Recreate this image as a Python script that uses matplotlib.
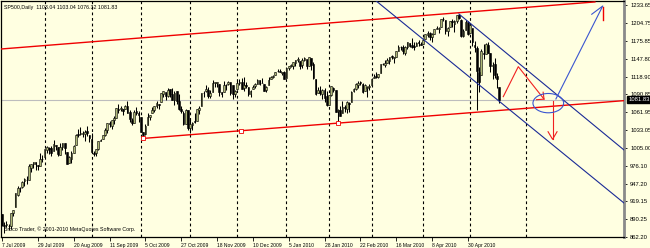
import matplotlib
matplotlib.use("Agg")
import matplotlib.pyplot as plt
from matplotlib.patches import Ellipse

plt.rcParams["font.family"] = ["Liberation Sans", "DejaVu Sans"]

# SP500 daily bars, 7 Jul 2009 .. 20 May 2010 (broker feed, incl. 7 Sep and 26 Nov bars)
opens = [
    898.6, 881.9, 881.3, 880.0, 879.6, 900.8, 910.2, 930.2, 940.6, 942.1, 952.0, 953.4, 954.1, 972.2, 978.6, 981.5, 977.7, 976.0, 986.8,
    990.2, 1001.4, 1005.4, 1004.1, 999.8, 1008.9, 1005.8, 994.0, 1005.9, 1012.2, 998.2, 980.6, 986.9, 996.4, 1009.1, 1026.6, 1026.6, 1027.4, 1027.8, 1031.6, 1025.2,
    1019.5, 996.1, 996.1, 1003.8, 1016.4, 1018.7, 1025.4, 1033.0, 1043.9, 1040.2, 1049.0, 1053.0, 1067.9, 1066.6, 1067.1, 1066.4, 1072.7, 1062.6, 1049.5, 1045.4, 1063.7, 1061.0,
    1054.9, 1029.7, 1026.9, 1042.0, 1053.7, 1060.0, 1065.3, 1071.6, 1075.0, 1078.7, 1090.4, 1094.7, 1088.2, 1098.6, 1090.4, 1081.0, 1095.6, 1080.4, 1067.5, 1061.5, 1043.7, 1065.4,
    1036.2, 1040.9, 1047.1, 1047.3, 1065.0, 1072.3, 1092.2, 1096.0, 1098.3, 1087.6, 1094.1, 1109.2, 1109.4, 1106.4, 1094.7, 1094.9, 1105.8, 1106.5, 1110.6, 1105.5, 1091.1,
    1098.9, 1109.0, 1110.6, 1100.4, 1105.5, 1103.0, 1091.1, 1098.7, 1104.0, 1107.8, 1114.1, 1108.6, 1106.4, 1097.9, 1105.3, 1114.5, 1118.8, 1121.1, 1127.5, 1128.6, 1125.5, 1126.6,
    1116.6, 1132.7, 1135.7, 1136.3, 1140.5, 1146.0, 1143.8, 1137.3, 1145.7, 1147.7, 1136.0, 1148.0, 1138.7, 1115.5, 1092.4, 1095.8, 1091.9, 1096.9, 1087.6,
    1073.9, 1090.1, 1100.7, 1097.3, 1064.1, 1065.5, 1060.1, 1069.7, 1067.1, 1076.0, 1079.1, 1096.1, 1099.0, 1105.5, 1110.0, 1107.5, 1095.9, 1101.2, 1103.1,
    1105.4, 1117.0, 1119.4, 1119.1, 1125.1, 1138.4, 1137.6, 1140.2, 1144.0, 1151.7, 1148.5, 1150.8, 1159.9, 1166.1, 1166.7, 1157.3, 1166.5, 1172.7, 1170.0, 1167.6, 1167.7, 1173.8, 1171.8,
    1171.2, 1178.7, 1186.0, 1188.2, 1181.8, 1187.5, 1194.9, 1195.9, 1198.7, 1210.8, 1210.2, 1192.1, 1199.0, 1207.2, 1202.5, 1207.9, 1217.1, 1209.9, 1184.6, 1193.3, 1206.8,
    1188.6, 1197.5, 1169.2, 1164.4, 1127.0, 1122.3, 1156.4, 1155.4, 1170.0, 1157.2, 1136.5, 1138.8, 1119.6, 1103.04,
]
highs = [
    898.6, 886.8, 887.9, 883.6, 901.1, 905.8, 933.0, 943.9, 941.9, 951.6, 956.5, 959.8, 979.4, 979.8, 982.5, 982.4, 977.8, 996.7, 993.2,
    1003.6, 1007.1, 1006.6, 1008.0, 1018.0, 1010.1, 1005.8, 1012.8, 1013.1, 1012.6, 998.2, 991.2, 999.6, 1008.9, 1027.6, 1035.8, 1037.8, 1032.5, 1033.3, 1039.5, 1025.2,
    1028.5, 1000.3, 1003.4, 1016.5, 1019.0, 1026.1, 1036.3, 1044.1, 1048.2, 1049.7, 1056.0, 1068.8, 1074.8, 1071.5, 1067.3, 1073.8, 1080.2, 1066.3, 1053.5, 1065.1, 1069.6, 1063.4,
    1054.9, 1030.6, 1042.6, 1060.6, 1058.0, 1070.7, 1071.5, 1079.5, 1075.3, 1093.2, 1096.6, 1094.7, 1100.2, 1098.6, 1101.4, 1095.2, 1095.8, 1091.8, 1072.5, 1063.3, 1066.8, 1065.4,
    1052.2, 1046.4, 1061.0, 1066.7, 1071.5, 1093.2, 1095.8, 1105.4, 1102.0, 1097.6, 1113.7, 1110.5, 1111.1, 1106.4, 1094.7, 1112.4, 1107.6, 1111.2, 1111.0, 1105.5, 1097.2,
    1112.3, 1115.6, 1117.3, 1119.1, 1110.7, 1103.0, 1097.0, 1106.3, 1108.5, 1114.8, 1114.1, 1116.2, 1106.4, 1103.7, 1117.7, 1120.3, 1121.6, 1126.5, 1130.4, 1130.4, 1126.4, 1127.6,
    1133.9, 1136.6, 1139.2, 1142.5, 1145.4, 1149.7, 1143.8, 1148.4, 1150.4, 1147.8, 1150.5, 1148.0, 1141.6, 1115.5, 1103.0, 1103.7, 1099.5, 1100.2, 1096.5,
    1089.4, 1104.7, 1102.7, 1097.3, 1067.1, 1071.2, 1080.0, 1073.7, 1080.0, 1077.8, 1095.7, 1101.0, 1108.2, 1112.4, 1112.3, 1108.6, 1106.4, 1103.5, 1107.2,
    1116.1, 1123.5, 1125.6, 1123.7, 1139.4, 1141.1, 1145.4, 1148.3, 1150.2, 1153.4, 1151.0, 1160.3, 1169.2, 1167.8, 1169.2, 1167.8, 1174.7, 1173.0, 1180.7, 1173.9, 1174.9, 1177.8, 1174.6,
    1181.4, 1187.7, 1191.8, 1189.6, 1188.6, 1194.7, 1199.2, 1199.0, 1210.7, 1213.9, 1210.2, 1197.9, 1208.6, 1211.0, 1210.3, 1217.3, 1219.8, 1211.4, 1195.0, 1209.4, 1208.0,
    1205.1, 1197.5, 1176.0, 1167.6, 1135.1, 1163.9, 1170.5, 1172.9, 1173.6, 1157.2, 1141.9, 1148.7, 1124.3, 1103.04,
]
lows = [
    879.9, 869.3, 878.5, 872.8, 875.3, 896.5, 910.2, 927.5, 934.4, 940.9, 943.2, 947.8, 953.3, 965.9, 972.3, 969.4, 968.7, 976.0, 982.8,
    990.2, 996.7, 994.3, 992.5, 999.8, 1001.0, 992.4, 993.4, 1000.8, 994.6, 978.5, 980.6, 980.6, 996.4, 1009.1, 1022.5, 1026.2, 1021.6, 1016.2, 1023.1, 1014.6,
    996.3, 992.0, 992.3, 1001.7, 1015.5, 1018.7, 1024.0, 1028.0, 1038.4, 1035.0, 1043.4, 1052.9, 1061.2, 1064.3, 1057.5, 1066.4, 1060.4, 1045.9, 1041.2, 1045.4, 1057.8, 1046.5,
    1029.5, 1020.0, 1025.9, 1042.0, 1050.1, 1060.0, 1063.0, 1068.3, 1066.7, 1078.7, 1086.4, 1081.5, 1086.5, 1086.2, 1080.8, 1074.3, 1075.5, 1065.2, 1060.6, 1042.2, 1043.7, 1033.4,
    1029.4, 1033.4, 1045.2, 1047.3, 1059.3, 1072.3, 1085.9, 1094.7, 1084.9, 1085.3, 1094.1, 1102.2, 1102.7, 1088.4, 1086.8, 1094.9, 1097.6, 1104.8, 1090.0, 1083.7, 1086.3,
    1098.9, 1105.3, 1098.7, 1096.5, 1100.8, 1088.6, 1085.9, 1098.7, 1101.3, 1107.8, 1105.4, 1108.0, 1095.9, 1093.9, 1105.3, 1114.5, 1116.0, 1121.1, 1126.1, 1126.2, 1121.9, 1114.8,
    1116.6, 1129.7, 1134.0, 1131.3, 1136.2, 1142.0, 1131.8, 1133.2, 1143.8, 1131.4, 1135.8, 1129.3, 1114.8, 1090.2, 1092.4, 1089.9, 1083.1, 1078.5, 1071.6,
    1073.9, 1088.0, 1094.0, 1062.8, 1044.5, 1056.5, 1060.1, 1062.4, 1060.1, 1063.0, 1079.1, 1094.7, 1097.7, 1100.8, 1105.4, 1092.2, 1095.5, 1086.0, 1097.6,
    1105.4, 1116.5, 1116.6, 1116.7, 1125.1, 1136.8, 1134.9, 1140.1, 1139.0, 1147.0, 1141.5, 1150.4, 1159.9, 1161.9, 1155.3, 1152.9, 1163.8, 1166.0, 1165.1, 1161.5, 1167.7, 1168.2, 1169.3,
    1170.7, 1178.7, 1182.8, 1177.3, 1175.1, 1187.2, 1194.7, 1188.8, 1198.7, 1208.5, 1186.8, 1183.7, 1199.0, 1198.9, 1190.2, 1205.1, 1211.1, 1181.6, 1181.8, 1193.3, 1186.3,
    1188.6, 1168.1, 1158.2, 1065.8, 1094.2, 1122.3, 1147.7, 1155.4, 1156.1, 1126.1, 1115.0, 1117.2, 1100.7, 1076.32,
]
closes = [
    881.0, 879.6, 882.7, 879.1, 901.1, 905.8, 932.7, 940.7, 940.4, 951.0, 954.6, 954.1, 976.3, 979.3, 982.2, 979.6, 975.2, 986.8, 987.5,
    1002.6, 1005.7, 1002.7, 997.1, 1010.5, 1007.1, 994.4, 1005.8, 1012.7, 1004.1, 979.7, 989.7, 996.5, 1007.4, 1026.1, 1025.6, 1028.0, 1028.1, 1031.0, 1028.9, 1020.6,
    998.0, 994.8, 1003.2, 1016.4, 1018.0, 1025.4, 1033.4, 1044.1, 1042.7, 1049.3, 1052.6, 1068.8, 1065.5, 1068.3, 1064.7, 1071.7, 1060.9, 1050.8, 1044.4, 1063.0, 1060.6, 1057.1,
    1029.9, 1025.2, 1040.5, 1054.7, 1057.6, 1065.5, 1071.5, 1076.2, 1073.2, 1092.0, 1096.6, 1087.7, 1097.9, 1091.1, 1081.4, 1092.9, 1079.6, 1067.0, 1063.4, 1042.6, 1066.1, 1036.2,
    1042.9, 1045.4, 1046.5, 1066.6, 1069.3, 1093.1, 1093.0, 1098.5, 1087.2, 1093.5, 1109.3, 1110.3, 1109.8, 1094.9, 1091.4, 1106.2, 1105.7, 1110.6, 1092.0, 1091.5, 1095.6,
    1108.9, 1109.2, 1099.9, 1106.0, 1103.3, 1091.9, 1095.9, 1102.4, 1106.4, 1114.1, 1107.9, 1109.2, 1096.1, 1102.5, 1114.0, 1118.0, 1120.6, 1126.5, 1127.8, 1126.2, 1126.4, 1115.1,
    1133.0, 1136.5, 1137.1, 1141.7, 1145.0, 1147.0, 1136.2, 1145.7, 1148.5, 1136.0, 1150.2, 1138.0, 1116.5, 1091.8, 1096.8, 1092.2, 1097.5, 1084.5, 1073.9,
    1089.2, 1103.3, 1097.3, 1063.1, 1066.2, 1056.7, 1070.5, 1068.1, 1078.5, 1075.5, 1094.9, 1099.5, 1106.8, 1109.2, 1108.0, 1094.6, 1105.2, 1102.9, 1104.5,
    1115.7, 1118.3, 1118.8, 1123.0, 1138.7, 1138.5, 1140.4, 1145.6, 1150.2, 1150.0, 1150.5, 1159.5, 1166.2, 1165.8, 1159.9, 1165.8, 1174.2, 1167.7, 1165.7, 1166.6, 1173.2, 1173.3, 1169.4,
    1178.1, 1187.4, 1189.4, 1182.5, 1186.4, 1194.4, 1196.5, 1197.3, 1210.7, 1211.7, 1192.1, 1197.5, 1207.2, 1205.9, 1208.7, 1217.3, 1212.1, 1183.7, 1191.4, 1206.8, 1186.7,
    1202.3, 1173.6, 1165.9, 1128.2, 1110.9, 1159.7, 1155.8, 1171.7, 1157.4, 1135.7, 1136.9, 1120.8, 1115.1, 1081.83,
]

# bottom labels: every 16th bar
date_labels = ["7 Jul 2009", "29 Jul 2009", "20 Aug 2009", "11 Sep 2009", "5 Oct 2009",
               "27 Oct 2009", "18 Nov 2009", "10 Dec 2009", "5 Jan 2010", "28 Jan 2010",
               "22 Feb 2010", "16 Mar 2010", "8 Apr 2010", "30 Apr 2010"]
date_bars = [0, 16, 32, 48, 64, 80, 96, 112, 128, 144, 160, 176, 192, 208]
# month separators (first bar of each month, last one is in the future area)
month_bars = [19, 40, 62, 84, 105, 127, 146, 165, 188, 209, 234]

price_levels = [1233.65, 1204.75, 1175.85, 1147.80, 1118.90, 1090.85, 1061.95,
                1033.05, 1005.00, 976.10, 947.20, 919.15, 890.25, 862.20]
last_price = 1081.83
title = "SP500,Daily  1103.04 1103.04 1076.32 1081.83"

# hand drawn objects, (bar, price)
red_upper = ([-1, 264.7], [1163.0, 1238.5])
red_lower = ([63, 277.7], [1020.0, 1080.5])
red_lower_pts = ([63, 106.5, 150], [1020.0, 1032.2, 1044.5])
blue_low = ([160, 277.7], [1260.7, 916.6])
blue_high = ([204, 277.7], [1219.2, 1001.5])
blue_arrow = ([247.3, 268.2, 263.3], [1083.2, 1232.0, 1218.8])
red_tick = ([268.2, 268.2], [1230.9, 1209.6])
red_zigzag = ([223.8, 230.5, 242.0], [1086.9, 1134.9, 1082.9])
red_zig_head = ([238.6, 242.0, 241.6], [1082.0, 1082.9, 1094.0])
red_down = ([245.8, 245.8], [1080.3, 1018.6])
red_down_head = ([243.8, 245.8, 247.8], [1030.7, 1018.6, 1030.7])

bg = "#FFFFE1"
fig = plt.figure(figsize=(6.5, 2.48), dpi=100, facecolor=bg)
ax = fig.add_axes([1 / 650, 11 / 248, 623 / 650, 236 / 248], facecolor=bg)

for b in month_bars:
    ax.axvline(b, color="black", lw=0.8, ls=(0, (2.5, 2.5)), zorder=1)

ax.axhline(last_price, color="#BDBDBD", lw=0.8, zorder=1)

x = list(range(len(closes)))
ax.vlines(x, lows, highs, color="black", lw=0.75, zorder=3)
up = [c >= o for o, c in zip(opens, closes)]
body_lo = [min(o, c) for o, c in zip(opens, closes)]
body_h = [max(abs(c - o), 0.6) for o, c in zip(opens, closes)]
ax.bar(x, body_h, bottom=body_lo, width=0.75,
       color=["#AEB877" if u else "black" for u in up],
       edgecolor="black", linewidth=0.4, zorder=4)

# channels and notes
ax.plot(*red_upper, color="#F00000", lw=1.0, zorder=5)
ax.plot(*red_lower, color="#F00000", lw=1.0, zorder=5)
ax.plot(*red_lower_pts, ls="none", marker="s", ms=2.2, mfc="white", mec="#F00000", mew=0.6, zorder=6)
ax.plot(*blue_low, color="#1A2A96", lw=0.8, zorder=5)
ax.plot(*blue_high, color="#1A2A96", lw=0.8, zorder=5)
ax.plot(*blue_arrow, color="#3A55D0", lw=0.8, zorder=5)
ax.plot(*red_tick, color="#F00000", lw=1.0, zorder=5)
ax.plot(*red_zigzag, color="#F02020", lw=0.8, zorder=5)
ax.plot(*red_zig_head, color="#F02020", lw=0.8, zorder=5)
ax.plot(*red_down, color="#F02020", lw=0.8, zorder=5)
ax.plot(*red_down_head, color="#F02020", lw=0.8, zorder=5)
ax.add_patch(Ellipse((243.9, 1076.5), 13.7, 30.9, fill=False, ec="#3A55D0", lw=0.8, zorder=5))

ax.set_xlim(-0.45, 277.7)
ax.set_ylim(862.2, 1240.0)

ax.yaxis.tick_right()
ax.set_yticks(price_levels)
ax.set_yticklabels([f"{p:.2f}" for p in price_levels])
ax.tick_params(axis="y", length=2, width=0.6, pad=2.5, labelsize=4.2, colors="black")
ax.set_xticks(date_bars)
ax.set_xticklabels(date_labels)
ax.tick_params(axis="x", length=3, width=0.6, pad=1, labelsize=3.6)
for lbl in ax.get_xticklabels():
    lbl.set_ha("left")

for side in ["left", "bottom", "top"]:
    ax.spines[side].set_color("black")
    ax.spines[side].set_linewidth(0.9)
ax.spines["right"].set_color("#8A8A8A")
ax.spines["right"].set_linewidth(2.0)

ax.text(0.005, 0.985, title, transform=ax.transAxes, fontsize=3.8, va="top", ha="left")
ax.text(0.005, 0.02, "Broco Trader, \u00a9 2001-2010 MetaQuotes Software Corp.",
        transform=ax.transAxes, fontsize=3.8, va="bottom", ha="left")
ax.text(1.007, last_price, f"{last_price:.2f}", transform=ax.get_yaxis_transform(),
        fontsize=4.2, color="white", va="center", ha="left",
        bbox=dict(boxstyle="square,pad=0.2", fc="black", ec="black"))

fig.savefig("out.png", dpi=100, facecolor=bg)
